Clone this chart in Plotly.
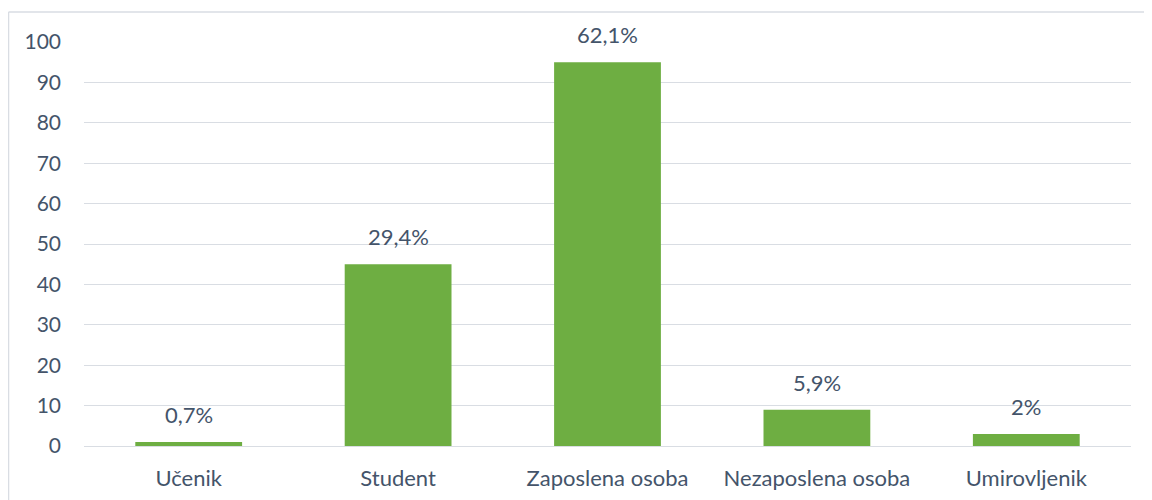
import plotly.graph_objects as go

categories = ["Učenik", "Student", "Zaposlena osoba", "Nezaposlena osoba", "Umirovljenik"]
counts = [1, 45, 95, 9, 3]
percent_labels = ["0,7%", "29,4%", "62,1%", "5,9%", "2%"]
y_ticks = [0, 10, 20, 30, 40, 50, 60, 70, 80, 90, 100]

text_color = "#44546A"
grid_color = "#D9DDE3"
font_family = "Lato, 'Open Sans', sans-serif"

fig = go.Figure()
fig.add_trace(go.Bar(
    x=categories,
    y=counts,
    marker=dict(color="#6EAE42", line=dict(width=0)),
    hoverinfo="x+y",
))

for c, v, lab in zip(categories, counts, percent_labels):
    fig.add_annotation(
        x=c, y=v, text=lab, showarrow=False,
        yanchor="bottom", yshift=12,
        font=dict(family=font_family, size=22, color=text_color),
    )

fig.update_layout(
    width=1152, height=500,
    margin=dict(l=76, r=29, t=34, b=62),
    paper_bgcolor="white",
    plot_bgcolor="white",
    bargap=0.49,
    showlegend=False,
    font=dict(family=font_family, size=22, color=text_color),
    xaxis=dict(
        showgrid=False, zeroline=False, showline=False,
        ticks="", ticklabelstandoff=17,
        tickfont=dict(family=font_family, size=22, color=text_color),
    ),
    yaxis=dict(
        range=[0, 100], tickvals=y_ticks,
        showgrid=True, gridcolor=grid_color, gridwidth=1.3,
        zeroline=True, zerolinecolor=grid_color, zerolinewidth=1.3,
        showline=False, ticks="", ticklabelstandoff=22,
        tickfont=dict(family=font_family, size=21, color=text_color),
    ),
    shapes=[
        dict(type="line", xref="paper", yref="paper",
             x0=-0.0721, x1=1.2, y0=1.0743, y1=1.0743,
             line=dict(color=grid_color, width=1.5), layer="below"),
        dict(type="line", xref="paper", yref="paper",
             x0=-0.0721, x1=-0.0721, y0=-0.3, y1=1.0743,
             line=dict(color=grid_color, width=1.5), layer="below"),
    ],
)

fig.write_html("out.html")
